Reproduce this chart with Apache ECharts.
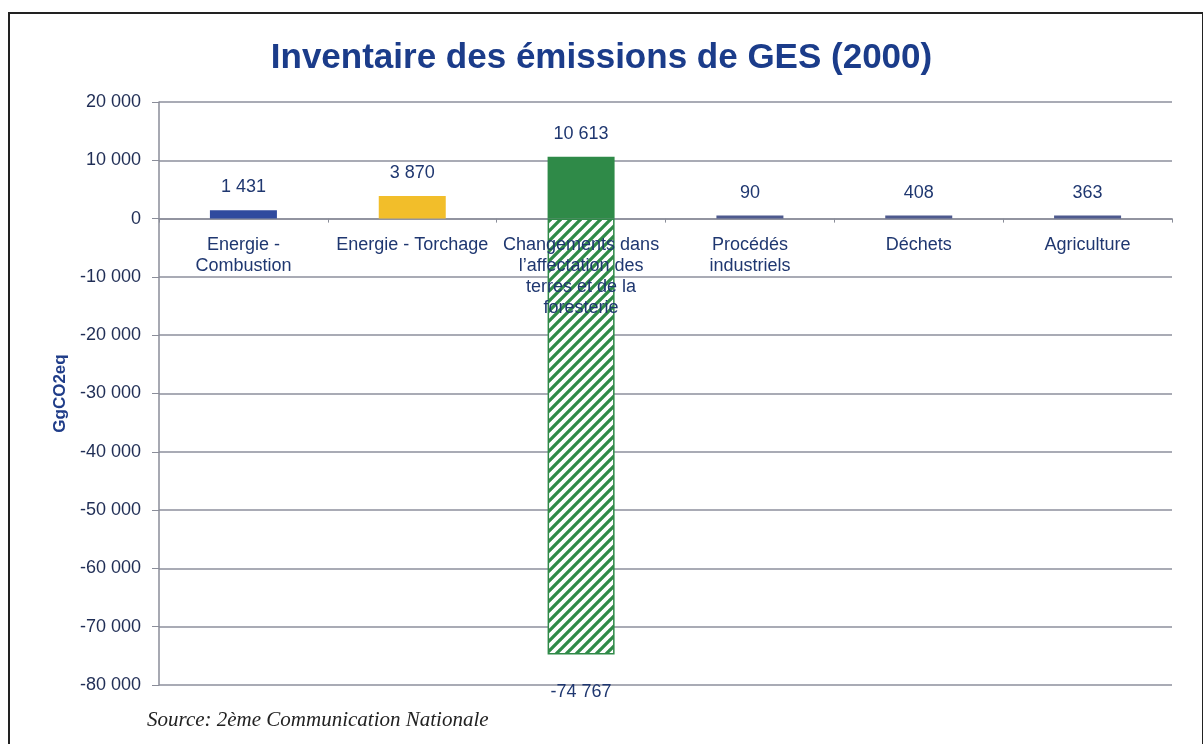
<!DOCTYPE html>
<html><head><meta charset="utf-8">
<script src="https://cdn.jsdelivr.net/npm/echarts@6/dist/echarts.min.js"></script>
<style>
html,body{margin:0;padding:0;background:#fff;}
#frame{position:absolute;left:8px;top:12px;width:1192px;height:740px;border-left:2px solid #222;border-top:2px solid #222;border-right:2px solid #222;}
#c{position:absolute;left:0;top:0;width:1203px;height:744px;}
</style></head>
<body>
<div id="frame"></div>
<div id="c"></div>
<script>
const categories = ["Energie -\nCombustion", "Energie - Torchage", "Changements dans\nl\u2019affectation des\nterres et de la\nforesterie", "Proc\u00e9d\u00e9s\nindustriels", "D\u00e9chets", "Agriculture"];
const emissions = [1431, 3870, 10613, 90, 408, 363];
const absorptions = [null, null, -74767, null, null, null];
const barColors = ["#2F4A9E", "#F2BE2A", "#2F8A48", "#4E5A8E", "#4E5A8E", "#4E5A8E"];
const yTicks = { min: -80000, max: 20000, interval: 10000 };

function fmt(v){
  const s = Math.abs(Math.round(v)).toString().replace(/\B(?=(\d{3})+(?!\d))/g, ' ');
  return (v < 0 ? '-' : '') + s;
}

// hatch pattern (diagonal "/" stripes)
const T = 10;
const pc = document.createElement('canvas');
pc.width = T; pc.height = T;
const g = pc.getContext('2d');
g.fillStyle = '#ffffff'; g.fillRect(0,0,T,T);
g.strokeStyle = '#2F8A48'; g.lineWidth = 3.3;
g.beginPath();
[0, T, 2*T].forEach(k => { g.moveTo(k - T - 1, T + 1); g.lineTo(k + 1, -1); });
g.stroke();

const FONT = 'Liberation Sans, Arial, sans-serif';
const TXT = '#1F3770';

const chart = echarts.init(document.getElementById('c'), null, {renderer:'canvas'});
chart.setOption({
  animation: false,
  backgroundColor: 'transparent',
  title: [{
    text: 'Inventaire des \u00e9missions de GES (2000)',
    left: 'center', top: 36,
    textStyle: { fontFamily: FONT, fontSize: 35, fontWeight: 'bold', color: '#1B3C8A' }
  }, {
    text: 'Source: 2\u00e8me Communication Nationale',
    left: 142, top: 705,
    textStyle: { fontFamily: 'Liberation Serif, Times New Roman, serif', fontSize: 21, fontStyle: 'italic', fontWeight: 'normal', color: '#222' }
  }],
  grid: { left: 159, right: 31, top: 102, bottom: 59, containLabel: false, outerBoundsMode: 'none' },
  xAxis: {
    type: 'category',
    data: categories,
    axisLine: { onZero: true, lineStyle: { color: '#8a8d99', width: 1.5 } },
    axisTick: { show: true, length: 4, lineStyle: { color: '#8a8d99' } },
    axisLabel: { show: false },
    splitLine: { show: false }
  },
  yAxis: {
    type: 'value',
    min: yTicks.min, max: yTicks.max, interval: yTicks.interval,
    name: 'GgCO2eq', nameLocation: 'middle', nameGap: 89, nameRotate: 90,
    nameTextStyle: { fontFamily: FONT, fontSize: 17, fontWeight: 'bold', color: '#1F3C88' },
    axisLine: { show: true, lineStyle: { color: '#8a8d99', width: 1.5 } },
    axisTick: { show: true, length: 7, lineStyle: { color: '#8a8d99' } },
    axisLabel: { margin: 18, formatter: fmt, fontFamily: FONT, fontSize: 18, color: '#1F2D55' },
    splitLine: { show: true, lineStyle: { color: '#8c8f9c', width: 1.5 } }
  },
  series: [{
    type: 'bar',
    stack: 'tot',
    barWidth: 67,
    barMinHeight: 3,
    data: emissions.map((v,i) => ({ value: v, itemStyle: { color: barColors[i] } })),
    label: { show: true, position: 'top', distance: 14, formatter: p => fmt(p.value), fontFamily: FONT, fontSize: 18, color: TXT }
  }, {
    type: 'bar',
    stack: 'tot',
    barWidth: 67,
    data: absorptions,
    itemStyle: { color: { image: pc, repeat: 'repeat' }, borderColor: '#2F8A48', borderWidth: 1.5 },
    label: { show: true, position: 'bottom', distance: 29, formatter: p => fmt(p.value), fontFamily: FONT, fontSize: 18, color: TXT }
  }, {
    type: 'scatter',
    z: 10,
    symbolSize: 0,
    silent: true,
    itemStyle: { opacity: 1 },
    data: categories.map((c, i) => [i, 0]),
    label: { show: true, position: 'bottom', distance: 16, opacity: 1, formatter: p => categories[p.dataIndex], fontFamily: FONT, fontSize: 18, lineHeight: 21, color: TXT, align: 'center' }
  }]
});
</script>
</body></html>
